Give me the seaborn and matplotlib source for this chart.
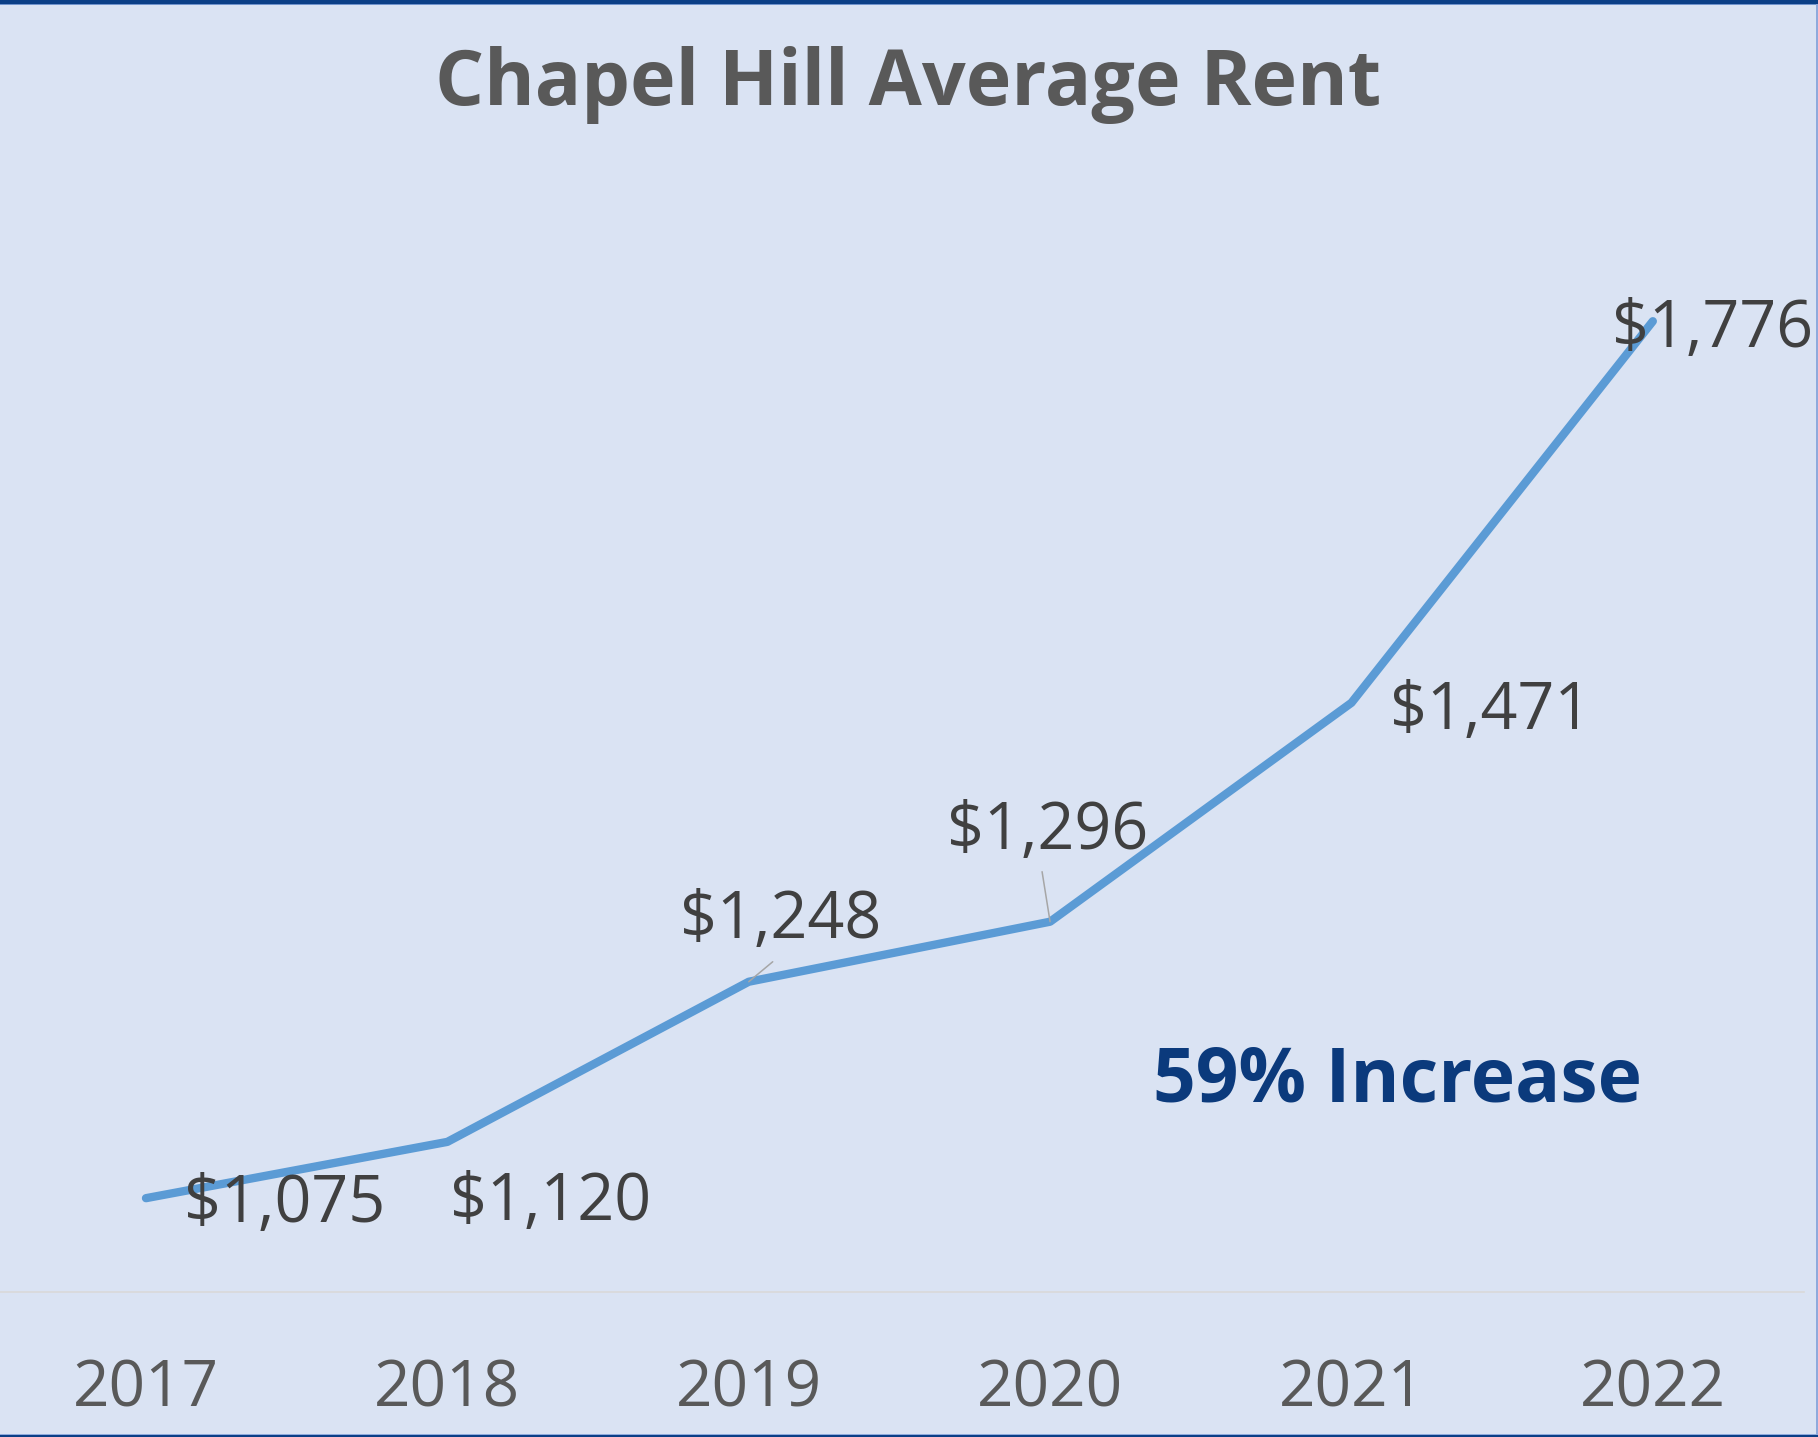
import matplotlib
matplotlib.use("Agg")
import matplotlib.pyplot as plt
import seaborn as sns
import pandas as pd
from matplotlib.patches import Rectangle

# ---- data ----
years = ["2017", "2018", "2019", "2020", "2021", "2022"]
rent = [1075, 1120, 1248, 1296, 1471, 1776]
title = "Chapel Hill Average Rent"
callout = "59% Increase"

# ---- style ----
BG = "#DAE3F3"
LINE = "#5B9BD5"
sns.set_theme(style="white")
plt.rcParams["font.family"] = ["Open Sans", "DejaVu Sans"]

W, H, DPI = 1818, 1437, 100
fig = plt.figure(figsize=(W / DPI, H / DPI), dpi=DPI, facecolor=BG)

ax = fig.add_axes([-4.7 / W, (H - 1292) / H, 1808.2 / W, 1251 / H])
ax.patch.set_alpha(0)

df = pd.DataFrame({"year": [int(y) for y in years], "rent": rent})
sns.lineplot(data=df, x="year", y="rent", color=LINE, lw=6,
             solid_capstyle="round", ax=ax)

ax.set_xlim(df["year"].min() - 0.5, df["year"].max() + 0.5)
ax.set_ylim(1000, 2000)
ax.set_xlabel("")
ax.set_ylabel("")
ax.set_yticks([])
ax.set_xticks(df["year"], labels=years)
ax.tick_params(axis="x", length=0, pad=47, labelsize=46, labelcolor="#595959")
for s in ["left", "right", "top"]:
    ax.spines[s].set_visible(False)
ax.spines["bottom"].set_color("#D9D9D9")
ax.spines["bottom"].set_linewidth(1.2)

# data labels (offsets in pixels from point to text baseline-left)
offsets = [(38, -24), (3, -78), (-69, 44), (-103, 73), (39, -26), (-41, -26)]
leaders = {2: (24, 20), 3: (-8, 50)}
for i, (yr, v) in enumerate(zip(df["year"], rent)):
    dx, dy = offsets[i]
    ax.annotate(f"${v:,}", xy=(yr, v), xytext=(dx, dy), textcoords="offset pixels",
                ha="left", va="baseline", fontsize=46.5, color="#404040")
    if i in leaders:
        lx, ly = leaders[i]
        ax.annotate("", xy=(yr, v), xytext=(lx, ly), textcoords="offset pixels",
                    arrowprops=dict(arrowstyle="-", color="#A6A6A6", lw=1.1,
                                    shrinkA=0, shrinkB=0))

# title and callout
fig.text(908 / W, (H - 105) / H, title, ha="center", va="baseline",
         fontsize=55.5, fontweight="bold", color="#595959")
fig.text(1397.5 / W, (H - 1101) / H, callout, ha="center", va="baseline",
         fontsize=54, fontweight="bold", color="#0B3A7C")

# chart border
fig.patches.append(Rectangle((0, (H - 3.5) / H), 1, 3.5 / H, transform=fig.transFigure,
                             facecolor="#0B3F86", edgecolor="none", zorder=5))
fig.patches.append(Rectangle((0, (H - 5) / H), 1, 1.5 / H, transform=fig.transFigure,
                             facecolor="#6F93CC", edgecolor="none", zorder=4))
fig.patches.append(Rectangle((0, 0), 1, 2 / H, transform=fig.transFigure,
                             facecolor="#0B3F86", edgecolor="none", zorder=5))
fig.patches.append(Rectangle((0, 2 / H), 1, 1.2 / H, transform=fig.transFigure,
                             facecolor="#8FAADC", edgecolor="none", zorder=4))
fig.patches.append(Rectangle((1816 / W, 0), 1.6 / W, 1, transform=fig.transFigure,
                             facecolor="#8FAADC", edgecolor="none", zorder=4))

fig.savefig("out.png", dpi=DPI, facecolor=BG)
